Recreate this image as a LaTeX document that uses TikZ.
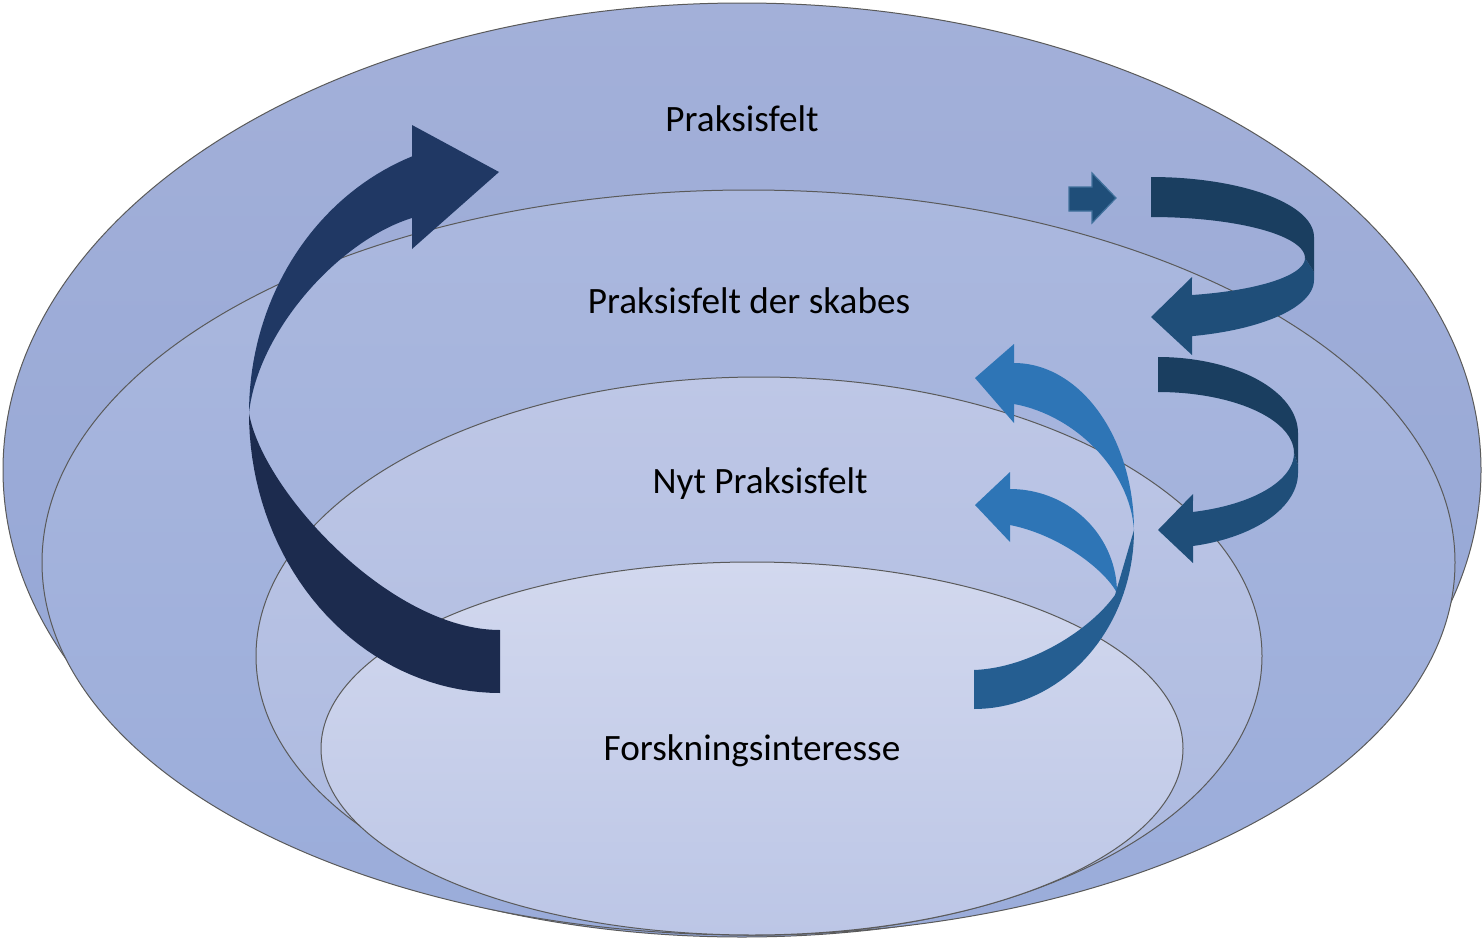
\documentclass[tikz,border=0pt]{standalone}
\usepackage{fontspec}
\setmainfont{Carlito}
\definecolor{ringline}{HTML}{5A5A5A}
\definecolor{r1t}{HTML}{A3B0D9}\definecolor{r1b}{HTML}{92A5D5}
\definecolor{r2t}{HTML}{ABB8DE}\definecolor{r2b}{HTML}{9AACDA}
\definecolor{r3t}{HTML}{BEC7E6}\definecolor{r3b}{HTML}{AAB8DF}
\definecolor{r4t}{HTML}{D2D8EE}\definecolor{r4b}{HTML}{BCC6E6}
\definecolor{bigtopc}{HTML}{203864}
\definecolor{bigbotc}{HTML}{1C2B4E}
\definecolor{spdarkc}{HTML}{1A3E60}
\definecolor{splightc}{HTML}{1F4E79}
\definecolor{blueonec}{HTML}{2E75B6}
\definecolor{bluetwoc}{HTML}{255E91}
\definecolor{smallline}{HTML}{41719C}
\tikzset{
  ring/.style={draw=ringline, line width=0.5pt},
  lbl/.style={font=\fontsize{18.6}{22}\selectfont, anchor=base, inner sep=0pt, text=black},
  bigtop/.style={fill=bigtopc},
  bigbot/.style={fill=bigbotc},
  spdark/.style={fill=spdarkc},
  splight/.style={fill=splightc},
  blueone/.style={fill=blueonec},
  bluetwo/.style={fill=bluetwoc},
  smallarrow/.style={fill=splightc, draw=smallline, line width=0.6pt, line join=miter},
  pl/.style={samples=40, variable=\t}
}
\begin{document}
\begin{tikzpicture}[x=0.5pt, y=-0.5pt]
\useasboundingbox (0,0) rectangle (1484,942);

% rings
\shadedraw[ring, top color=r1t, bottom color=r1b] (742,470) ellipse [x radius=369.5pt, y radius=233.5pt];
\shadedraw[ring, top color=r2t, bottom color=r2b] (748.5,562.5) ellipse [x radius=353.25pt, y radius=186.25pt];
\shadedraw[ring, top color=r3t, bottom color=r3b] (759,656) ellipse [x radius=251.5pt, y radius=139.5pt];
\shadedraw[ring, top color=r4t, bottom color=r4b] (752,748.5) ellipse [x radius=215.5pt, y radius=93.25pt];

% big left arrow
\fill[bigtop] plot[pl, domain=180:249.5] ({500+251*cos(\t)},{413+274*sin(\t)})
  -- (412,125) -- (499,172) -- (412,249) -- (412,218)
  .. controls (340,240) and (258,330) .. (249,413) -- cycle;
\fill[bigbot] (500,630) -- plot[pl, domain=90:180] ({500+251*cos(\t)},{413+280*sin(\t)})
  .. controls (262,490) and (390,630) .. (500,630) -- cycle;

% right spiral 1
\fill[splight] (1305,258) -- (1314,272)
  -- plot[pl, domain=0:75.4] ({1151+163*cos(\t)},{280+58*sin(\t)})
  -- (1192,355) -- (1151,317) -- (1192,277)
  -- plot[pl, domain=74.6:0] ({1151+154*cos(\t)},{258+38.4*sin(\t)}) -- cycle;
\fill[spdark] plot[pl, domain=270:360] ({1151+163*cos(\t)},{237+60*sin(\t)})
  -- (1314,272) -- (1305,258)
  -- plot[pl, domain=360:270] ({1151+154*cos(\t)},{258+41*sin(\t)}) -- cycle;

% right spiral 2
\fill[splight] (1294,453) -- (1298,465)
  -- plot[pl, domain=0:75.5] ({1158+140*cos(\t)},{473+75.4*sin(\t)})
  -- (1193,563) -- (1158,530) -- (1193,494)
  -- plot[pl, domain=75.1:0] ({1158+136*cos(\t)},{453+61*sin(\t)}) -- cycle;
\fill[spdark] plot[pl, domain=270:360] ({1158+140*cos(\t)},{433+76*sin(\t)})
  -- (1298,465) -- (1294,453)
  -- plot[pl, domain=360:270] ({1158+136*cos(\t)},{453+61*sin(\t)}) -- cycle;

% blue arrows
\fill[blueone] plot[pl, domain=270:360] ({1014+120*cos(\t)},{530+167*sin(\t)})
  .. controls (1130,470) and (1075,415) .. (1014,404)
  -- (1014,423) -- (975,378) -- (1014,344) -- cycle;
\fill[blueone] plot[pl, domain=270:360] ({1010+107*cos(\t)},{593+104*sin(\t)})
  .. controls (1105,570) and (1060,535) .. (1010,525)
  -- (1010,542) -- (975,505) -- (1010,472) -- cycle;
\fill[bluetwo] (974,670) -- plot[pl, domain=90:0] ({974+160*cos(\t)},{530+179*sin(\t)})
  -- (1115,595) .. controls (1090,630) and (1030,668) .. (974,670) -- cycle;

% small arrow
\filldraw[smallarrow] (1069,187) -- (1092,187) -- (1092,173) -- (1116,198)
  -- (1092,223) -- (1092,211) -- (1069,211) -- cycle;

% labels
\node[lbl] (praksis) at (742,131) {Praksisfelt};
\node[lbl] (skabes) at (749,313) {Praksisfelt der skabes};
\node[lbl] (nyt) at (760,493) {Nyt Praksisfelt};
\node[lbl] (forsk) at (752,760) {Forskningsinteresse};
\end{tikzpicture}
\end{document}
